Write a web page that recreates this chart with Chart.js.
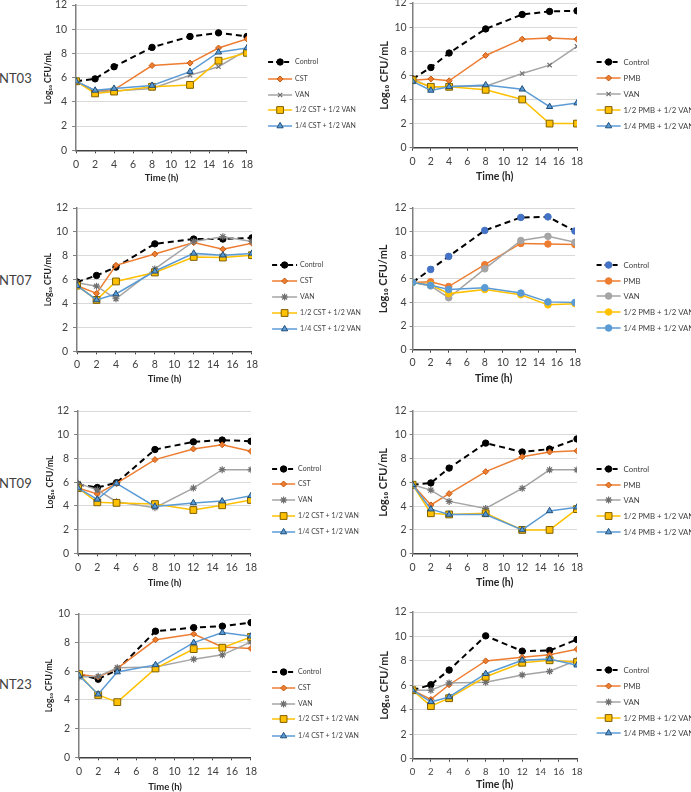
<!DOCTYPE html>
<html><head><meta charset="utf-8">
<script src="https://cdn.jsdelivr.net/npm/chart.js@4.4.1/dist/chart.umd.min.js"></script>
<style>
body{margin:0;width:691px;height:792px;background:#fff;position:relative;overflow:hidden}
canvas{position:absolute}
.lab{position:absolute;font:13px Lato,'Open Sans',sans-serif;color:#404040;line-height:16px;white-space:nowrap}
</style></head><body>
<script>
// ---------- DATA ----------
const times = [0, 2, 4, 8, 12, 15, 18];
const xTickValues = [0, 2, 4, 6, 8, 10, 12, 14, 16, 18];
const isolates = ['NT03', 'NT07', 'NT09', 'NT23'];
const cstLabels = ['Control', 'CST', 'VAN', '1/2 CST + 1/2 VAN', '1/4 CST + 1/2 VAN'];
const pmbLabels = ['Control', 'PMB', 'VAN', '1/2 PMB + 1/2 VAN', '1/4 PMB + 1/2 VAN'];
const xTitle = 'Time (h)';
const yTitle = 'Log₁₀ CFU/mL';

const nt03CstControl = [5.7, 5.9, 6.9, 8.5, 9.4, 9.7, 9.4];
const nt03CstCst     = [5.7, 4.9, 5.0, 7.0, 7.2, 8.45, 9.2];
const nt03CstVan     = [5.7, 4.8, 4.9, 5.1, 6.2, 6.9, 8.3];
const nt03CstHalf    = [5.7, 4.7, 4.85, 5.25, 5.4, 7.4, 8.05];
const nt03CstQuarter = [5.7, 4.95, 5.1, 5.35, 6.5, 8.1, 8.45];

const nt03PmbControl = [5.7, 6.65, 7.85, 9.85, 11.05, 11.3, 11.35];
const nt03PmbPmb     = [5.6, 5.7, 5.55, 7.65, 9.0, 9.1, 9.0];
const nt03PmbVan     = [5.7, 5.0, 5.1, 5.1, 6.15, 6.85, 8.4];
const nt03PmbHalf    = [5.6, 5.05, 5.05, 4.8, 4.0, 2.0, 2.0];
const nt03PmbQuarter = [5.5, 4.75, 5.05, 5.2, 4.85, 3.4, 3.7];

const nt07CstControl = [5.8, 6.35, 7.05, 9.0, 9.4, 9.4, 9.5];
const nt07CstCst     = [5.5, 4.85, 7.2, 8.15, 9.1, 8.55, 9.05];
const nt07CstVan     = [5.75, 5.45, 4.4, 6.9, 9.2, 9.6, 9.2];
const nt07CstHalf    = [5.5, 4.3, 5.85, 6.6, 7.9, 7.85, 8.05];
const nt07CstQuarter = [5.5, 4.3, 4.8, 6.7, 8.2, 8.05, 8.2];

const nt07PmbControl = [5.7, 6.8, 7.9, 10.1, 11.2, 11.25, 10.05];
const nt07PmbPmb     = [5.7, 5.75, 5.35, 7.2, 9.0, 8.95, 8.9];
const nt07PmbVan     = [5.7, 5.4, 4.4, 6.85, 9.25, 9.6, 9.1];
const nt07PmbHalf    = [5.7, 5.5, 4.75, 5.1, 4.65, 3.8, 3.9];
const nt07PmbQuarter = [5.7, 5.45, 5.1, 5.25, 4.8, 4.05, 4.0];

const nt09CstControl = [5.8, 5.55, 5.95, 8.75, 9.4, 9.55, 9.45];
const nt09CstCst     = [5.5, 5.0, 5.9, 7.9, 8.8, 9.15, 8.6];
const nt09CstVan     = [5.9, 5.35, 4.35, 3.85, 5.5, 7.05, 7.05];
const nt09CstHalf    = [5.5, 4.3, 4.25, 4.15, 3.65, 4.05, 4.5];
const nt09CstQuarter = [5.5, 4.55, 5.9, 3.95, 4.25, 4.4, 4.85];

const nt09PmbControl = [5.8, 5.95, 7.2, 9.3, 8.55, 8.8, 9.65];
const nt09PmbPmb     = [5.8, 4.1, 5.05, 6.9, 8.15, 8.55, 8.65];
const nt09PmbVan     = [5.8, 5.35, 4.4, 3.8, 5.5, 7.05, 7.05];
const nt09PmbHalf    = [5.8, 3.4, 3.3, 3.4, 2.0, 2.0, 3.75];
const nt09PmbQuarter = [5.8, 3.75, 3.3, 3.3, 2.0, 3.6, 3.9];

const nt23CstControl = [5.8, 5.45, 6.1, 8.8, 9.05, 9.15, 9.4];
const nt23CstCst     = [5.8, 5.6, 6.2, 8.2, 8.6, 7.7, 7.6];
const nt23CstVan     = [5.6, 5.65, 6.25, 6.3, 6.85, 7.15, 8.05];
const nt23CstHalf    = [5.8, 4.35, 3.85, 6.2, 7.55, 7.65, 8.4];
const nt23CstQuarter = [5.7, 4.4, 5.95, 6.45, 8.0, 8.7, 8.45];

const nt23PmbControl = [5.6, 6.05, 7.25, 10.05, 8.8, 8.85, 9.75];
const nt23PmbPmb     = [5.6, 4.85, 6.05, 8.0, 8.3, 8.5, 8.95];
const nt23PmbVan     = [5.6, 5.6, 6.2, 6.25, 6.85, 7.15, 8.05];
const nt23PmbHalf    = [5.6, 4.3, 4.95, 6.7, 7.85, 8.05, 7.9];
const nt23PmbQuarter = [5.6, 4.65, 5.05, 6.95, 8.05, 8.15, 7.65];

// ---------- STYLES / LAYOUT ----------
const FONT = "Lato, 'DejaVu Sans', sans-serif";
const baseStyles = [
  {line:'#000000', width:2, dash:[6,4], ps:'circle', r:3.2, fill:'#000000', border:'#000000', bw:1},
  {line:'#ED7D31', width:1.5, dash:[], ps:'rectRot', r:3, fill:'#ED7D31', border:'#C55A11', bw:1},
  {line:'#A5A5A5', width:1.5, dash:[], ps:'crossRot', r:3, fill:'#7F7F7F', border:'#6F6F6F', bw:1.2},
  {line:'#FFC000', width:1.5, dash:[], ps:'rect', r:4.8, fill:'#FFC000', border:'#7F6000', bw:1},
  {line:'#5B9BD5', width:1.5, dash:[], ps:'triangle', r:3.6, fill:'#5B9BD5', border:'#1F4E79', bw:1}
];
const circleStyles = [
  {line:'#000000', width:2, dash:[6,4], ps:'circle', r:3.3, fill:'#4472C4', border:'#4472C4', bw:1},
  {line:'#ED7D31', width:1.5, dash:[], ps:'circle', r:3.3, fill:'#ED7D31', border:'#ED7D31', bw:1},
  {line:'#A5A5A5', width:1.5, dash:[], ps:'circle', r:3.3, fill:'#A5A5A5', border:'#A5A5A5', bw:1},
  {line:'#FFC000', width:1.5, dash:[], ps:'circle', r:3.3, fill:'#FFC000', border:'#FFC000', bw:1},
  {line:'#5B9BD5', width:1.5, dash:[], ps:'circle', r:3.3, fill:'#5B9BD5', border:'#5B9BD5', bw:1}
];
const starVan = Object.assign({}, baseStyles[2], {ps:'star', r:3.5});

const panels = [
  {iso:0, col:0, labels:cstLabels, series:[nt03CstControl,nt03CstCst,nt03CstVan,nt03CstHalf,nt03CstQuarter],
   L:76,R:247,T:5,B:150,ymax:12,ytx:48,tickY:164,titleY:178,leg:[62,79,95,110,126],legX:268,textX:295,labY:78, styles:baseStyles},
  {iso:0, col:1, labels:pmbLabels, series:[nt03PmbControl,nt03PmbPmb,nt03PmbVan,nt03PmbHalf,nt03PmbQuarter],
   L:413,R:577,T:3,B:148,ymax:12,ytx:385,tickY:162,titleY:177,leg:[62,78,94,110,126],legX:597,textX:624, styles:baseStyles},
  {iso:1, col:0, labels:cstLabels, series:[nt07CstControl,nt07CstCst,nt07CstVan,nt07CstHalf,nt07CstQuarter],
   L:77,R:252,T:208,B:351,ymax:12,ytx:48,tickY:364,titleY:379,leg:[265,281,297,313,329],legX:272,textX:300,labY:280, styles:[baseStyles[0],baseStyles[1],starVan,baseStyles[3],baseStyles[4]]},
  {iso:1, col:1, labels:pmbLabels, series:[nt07PmbControl,nt07PmbPmb,nt07PmbVan,nt07PmbHalf,nt07PmbQuarter],
   L:413,R:575,T:208,B:350,ymax:12,ytx:384,tickY:363,titleY:379,leg:[265,281,296,312,328],legX:597,textX:624, styles:circleStyles},
  {iso:2, col:0, labels:cstLabels, series:[nt09CstControl,nt09CstCst,nt09CstVan,nt09CstHalf,nt09CstQuarter],
   L:78,R:251,T:411,B:553,ymax:12,ytx:50,tickY:567,titleY:583,leg:[469,484,500,516,532],legX:272,textX:298,labY:483, styles:[baseStyles[0],baseStyles[1],starVan,baseStyles[3],baseStyles[4]]},
  {iso:2, col:1, labels:pmbLabels, series:[nt09PmbControl,nt09PmbPmb,nt09PmbVan,nt09PmbHalf,nt09PmbQuarter],
   L:413,R:577,T:411,B:554,ymax:12,ytx:384,tickY:568,titleY:583,leg:[469,485,500,516,532],legX:597,textX:624, styles:[baseStyles[0],baseStyles[1],starVan,baseStyles[3],baseStyles[4]]},
  {iso:3, col:0, labels:cstLabels, series:[nt23CstControl,nt23CstCst,nt23CstVan,nt23CstHalf,nt23CstQuarter],
   L:79,R:251,T:614,B:757,ymax:10,ytx:49,tickY:771,titleY:787,leg:[672,688,704,719,736],legX:272,textX:298,labY:684, styles:[baseStyles[0],baseStyles[1],starVan,baseStyles[3],baseStyles[4]]},
  {iso:3, col:1, labels:pmbLabels, series:[nt23PmbControl,nt23PmbPmb,nt23PmbVan,nt23PmbHalf,nt23PmbQuarter],
   L:413,R:577,T:612,B:759,ymax:12,ytx:385,tickY:772,titleY:785,leg:[670,686,702,718,733],legX:597,textX:624, styles:[baseStyles[0],baseStyles[1],starVan,baseStyles[3],baseStyles[4]], xTickSize:9.5}
];

function drawMarker(ctx, st, x, y) {
  ctx.save();
  ctx.fillStyle = st.fill; ctx.strokeStyle = st.border; ctx.lineWidth = st.bw; ctx.setLineDash([]);
  if (Chart.helpers && Chart.helpers.drawPoint) {
    Chart.helpers.drawPoint(ctx, {pointStyle: st.ps, radius: st.r, rotation: 0, borderWidth: st.bw}, x, y);
  } else {
    ctx.beginPath(); ctx.arc(x, y, st.r, 0, Math.PI*2); ctx.fill(); ctx.stroke();
  }
  ctx.restore();
}

panels.forEach((p) => {
  const leftCol = p.col === 0;
  const yTitleSize = leftCol ? 8.5 : 11;
  const yTitleLh = yTitleSize * 1.2;
  const tickSize = 10.5;
  const xTickSize = p.xTickSize || tickSize;
  const tickLh = xTickSize * 1.2;
  const xTitleSize = leftCol ? 9.5 : 10.5;
  const xTitleLh = xTitleSize * 1.2;
  const legSize = leftCol ? 7 : 7.8;
  const x0 = p.ytx - yTitleLh / 2;
  const top0 = p.T - 12;
  const bottom0 = p.titleY + xTitleLh / 2;
  const W = leftCol ? 372 - x0 : 691 - x0;
  const H = bottom0 - top0;
  const yw = p.L - x0;
  const xh = bottom0 - p.B;
  const yTickLen = leftCol ? 4 : 3;
  const yTickPad = leftCol ? 5 : 3;
  const xTickLen = 3;
  const xTickPad = p.tickY - p.B - xTickLen - tickLh / 2;

  if (leftCol) {
    const d = document.createElement('div');
    d.className = 'lab';
    d.textContent = isolates[p.iso];
    d.style.left = '-1px';
    d.style.top = (p.labY - 8) + 'px';
    document.body.appendChild(d);
  }

  const cv = document.createElement('canvas');
  cv.width = Math.round(W); cv.height = Math.round(H);
  cv.style.left = x0 + 'px'; cv.style.top = top0 + 'px';
  cv.style.width = Math.round(W) + 'px'; cv.style.height = Math.round(H) + 'px';
  document.body.appendChild(cv);

  const datasets = p.series.map((vals, i) => {
    const st = p.styles[i];
    return {
      label: p.labels[i],
      data: times.map((t, k) => ({x: t, y: vals[k]})),
      borderColor: st.line, borderWidth: st.width, borderDash: st.dash,
      pointStyle: st.ps, pointRadius: st.r, pointHoverRadius: st.r,
      pointBackgroundColor: st.fill, pointBorderColor: st.border, pointBorderWidth: st.bw,
      tension: 0, fill: false, order: 4 - i
    };
  });

  const legendPlugin = {
    id: 'customLegend',
    afterDraw(chart) {
      const ctx = chart.ctx;
      ctx.save();
      p.labels.forEach((lab, i) => {
        const st = p.styles[i];
        const y = p.leg[i] - top0;
        const xa = p.legX - x0, xb = p.textX - x0 - 3;
        ctx.strokeStyle = st.line; ctx.lineWidth = st.width; ctx.setLineDash(st.dash.length ? [5, 3] : []);
        ctx.beginPath(); ctx.moveTo(xa, y); ctx.lineTo(xb, y); ctx.stroke();
        drawMarker(ctx, st, (xa + xb) / 2, y);
        ctx.setLineDash([]);
        ctx.fillStyle = '#404040';
        ctx.font = legSize + 'px ' + FONT;
        ctx.textBaseline = 'middle'; ctx.textAlign = 'left';
        ctx.fillText(lab, p.textX - x0, y);
      });
      ctx.restore();
    }
  };

  new Chart(cv, {
    type: 'line',
    data: { datasets },
    plugins: [legendPlugin],
    options: {
      responsive: false, animation: false, devicePixelRatio: 1,
      layout: { padding: { left: 0, top: 12, bottom: 0, right: W - (p.R - x0) } },
      plugins: { legend: { display: false }, tooltip: { enabled: false } },
      scales: {
        x: {
          type: 'linear', min: 0, max: 18,
          afterBuildTicks: (s) => { s.ticks = xTickValues.map(v => ({value: v})); },
          afterFit: (s) => { s.height = xh; },
          ticks: { font: { size: xTickSize, family: FONT }, color: '#404040', padding: xTickPad, maxRotation: 0, autoSkip: false },
          grid: { display: true, drawOnChartArea: false, drawTicks: true, tickLength: xTickLen, tickColor: '#404040', color: '#404040' },
          border: { display: true, color: '#404040', width: 1.5 },
          title: { display: true, text: xTitle, font: { size: xTitleSize, weight: 'bold', family: FONT }, color: '#262626', padding: 0 }
        },
        y: {
          min: 0, max: p.ymax,
          ticks: { stepSize: 2, font: { size: tickSize, family: FONT }, color: '#404040', padding: yTickPad },
          afterFit: (s) => { s.width = yw; },
          grid: { color: '#D9D9D9', lineWidth: 1, drawTicks: true, tickLength: yTickLen, tickColor: '#7F7F7F' },
          border: { display: true, color: '#7F7F7F', width: 1.5 },
          title: { display: true, text: yTitle, font: { size: yTitleSize, weight: 'bold', family: FONT }, color: '#262626', padding: 0 }
        }
      }
    }
  });
});
</script>
</body></html>
